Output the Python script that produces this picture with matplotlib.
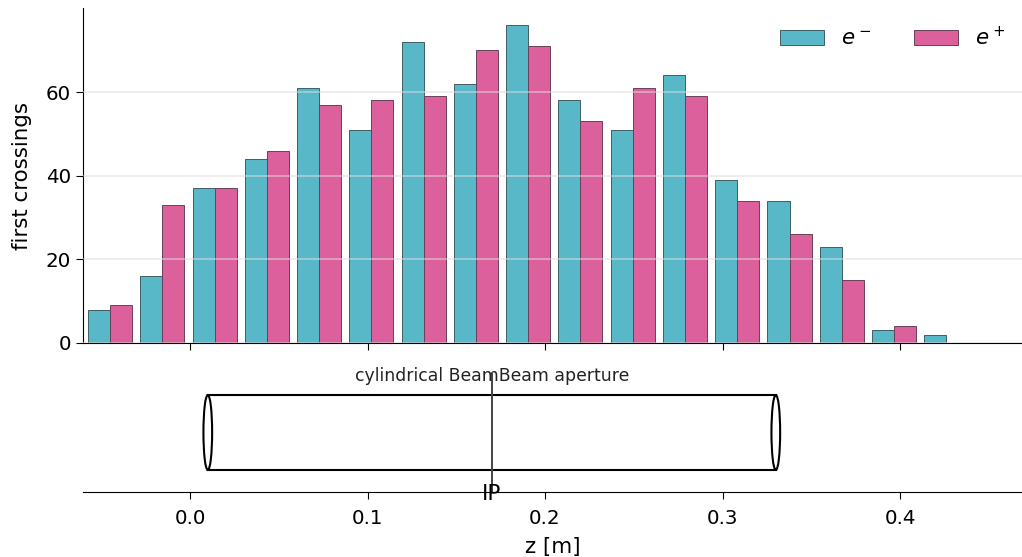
import numpy as np
import matplotlib
matplotlib.use('Agg')
import matplotlib.pyplot as plt
from matplotlib.patches import Ellipse

first_bin = -0.045
bin_step = 0.02944
electrons = [8, 16, 37, 44, 61, 51, 72, 62, 76, 58, 51, 64, 39, 34, 23, 3, 2]
positrons = [9, 33, 37, 46, 57, 58, 59, 70, 71, 53, 61, 59, 34, 26, 15, 4, 0]
y_ticks = [0, 20, 40, 60]
x_ticks = [0.0, 0.1, 0.2, 0.3, 0.4]
cyl_start = 0.01
cyl_end = 0.33
ip_z = 0.17

W, H = 1022, 557
fig = plt.figure(figsize=(W / 100, H / 100), dpi=100)
ax1 = fig.add_axes([83 / W, 1 - 343 / H, 939 / W, 335 / H])
ax2 = fig.add_axes([83 / W, 1 - 492 / H, 939 / W, 120 / H], sharex=ax1)

# histogram
centers = first_bin + bin_step * np.arange(len(electrons))
w = 0.0124
ax1.bar(centers - w / 2, electrons, w, color='#58B8C8', edgecolor='#3f5f68', linewidth=0.7, label='$e^-$')
ax1.bar(centers + w / 2, positrons, w, color='#DC609C', edgecolor='#6a4058', linewidth=0.7, label='$e^+$')
ax1.set_xlim(-0.0603, 0.4687)
ax1.set_ylim(0, 80.1)
ax1.set_yticks(y_ticks)
ax1.set_xticks(x_ticks)
ax1.tick_params(axis='x', labelbottom=False, length=5)
ax1.tick_params(axis='y', labelsize=14.3, length=5)
ax1.yaxis.grid(True, color='#dddddd', linewidth=1.2, alpha=0.6, zorder=5)
ax1.set_axisbelow(False)
ax1.xaxis.grid(False)
ax1.set_ylabel('first crossings', fontsize=15.4, labelpad=10)
for s in ['top', 'right']:
    ax1.spines[s].set_visible(False)
ax1.legend(loc='upper right', ncol=2, frameon=False, fontsize=15.4, handlelength=2.06,
           handleheight=0.75, columnspacing=2.0, handletextpad=0.8,
           borderaxespad=0.4, bbox_to_anchor=(1.0, 0.998))

# cylinder sketch
ax2.set_ylim(-1.587, 1.613)
ax2.plot([cyl_start, cyl_end], [1, 1], color='k', lw=1.5)
ax2.plot([cyl_start, cyl_end], [-1, -1], color='k', lw=1.5)
for z in (cyl_start, cyl_end):
    ax2.add_patch(Ellipse((z, 0), 0.0049, 2, fill=False, edgecolor='k', lw=1.5))
ax2.plot([ip_z, ip_z], [-1.587, 1.55], color='#444444', lw=1.4)
ax2.text(ip_z, 1.5, 'cylindrical BeamBeam aperture', ha='center', va='center', fontsize=12.4, color='#222222')
ax2.text(ip_z, -1.64, 'IP', ha='center', va='center', fontsize=15.4)
ax2.set_yticks([])
ax2.set_xticks(x_ticks)
ax2.tick_params(axis='x', labelsize=14.3, length=5, pad=7.5)
ax2.set_xlabel('z [m]', fontsize=15.4, labelpad=6.5)
for s in ['top', 'right', 'left']:
    ax2.spines[s].set_visible(False)

fig.savefig('out.png', dpi=100)
